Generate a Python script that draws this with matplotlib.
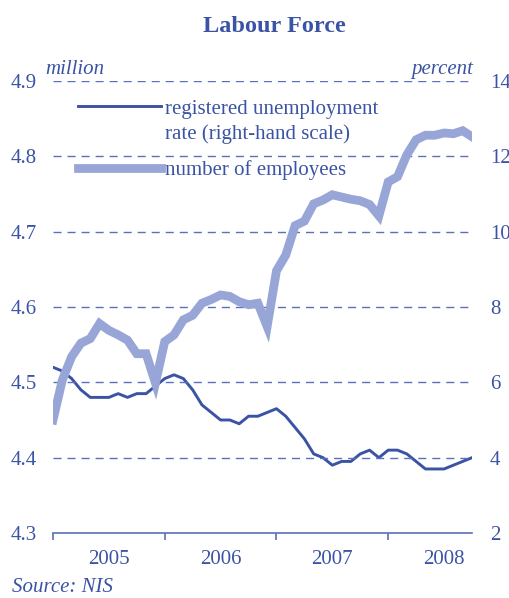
import numpy as np
import matplotlib
matplotlib.use("Agg")
import matplotlib.pyplot as plt

# monthly data, Jan 2005 - Oct 2008
employees = [4.450, 4.503, 4.534, 4.552, 4.558, 4.578, 4.569, 4.563, 4.556, 4.538,
             4.538, 4.499, 4.554, 4.563, 4.583, 4.589, 4.605, 4.610, 4.616, 4.614,
             4.607, 4.603, 4.605, 4.574, 4.648, 4.669, 4.708, 4.714, 4.737, 4.742,
             4.749, 4.746, 4.743, 4.741, 4.736, 4.721, 4.766, 4.773, 4.802, 4.822,
             4.828, 4.828, 4.831, 4.830, 4.834, 4.826]
unemployment = [6.4, 6.3, 6.1, 5.8, 5.6, 5.6, 5.6, 5.7, 5.6, 5.7,
                5.7, 5.9, 6.1, 6.2, 6.1, 5.8, 5.4, 5.2, 5.0, 5.0,
                4.9, 5.1, 5.1, 5.2, 5.3, 5.1, 4.8, 4.5, 4.1, 4.0,
                3.8, 3.9, 3.9, 4.1, 4.2, 4.0, 4.2, 4.2, 4.1, 3.9,
                3.7, 3.7, 3.7, 3.8, 3.9, 4.0]
years = ["2005", "2006", "2007", "2008"]
left_ticks = [4.3, 4.4, 4.5, 4.6, 4.7, 4.8, 4.9]
right_ticks = [2, 4, 6, 8, 10, 12, 14]

BLUE = "#3b53a4"
GRID = "#5b70bb"
LIGHT = "#98a5d7"

plt.rcParams["font.family"] = ["Liberation Serif", "DejaVu Serif"]
plt.rcParams["font.size"] = 15

fig = plt.figure(figsize=(5.10, 5.98), dpi=100)
ax = fig.add_axes([53 / 510, 1 - 533 / 598, 419 / 510, 452 / 598])
ax2 = ax.twinx()

x = np.arange(len(employees))
l_emp, = ax.plot(x, employees, color=LIGHT, lw=6.3, solid_joinstyle="miter", zorder=3)
l_un, = ax2.plot(x, unemployment, color=BLUE, lw=2.1, zorder=4)

ax.set_xlim(0, len(employees) - 1)
ax.set_ylim(4.3, 4.9)
ax2.set_ylim(2, 14)
ax.set_yticks(left_ticks)
ax.set_yticklabels([f"{v:.1f}" for v in left_ticks])
ax2.set_yticks(right_ticks)

for v in left_ticks[1:]:
    ax.axhline(v, color=GRID, lw=1, dashes=(5.8, 4.3), zorder=1)

for a in (ax, ax2):
    for s in ("left", "right", "top"):
        a.spines[s].set_visible(False)
    a.tick_params(axis="y", length=0, colors=BLUE, labelsize=15)
ax.tick_params(axis="y", pad=11.5)
ax2.tick_params(axis="y", pad=13)
ax.spines["bottom"].set_color(GRID)
ax.spines["bottom"].set_linewidth(1.2)
ax2.spines["bottom"].set_visible(False)

ax.set_xticks([0, 12, 24, 36])
ax.set_xticklabels([])
ax.set_xticks([6, 18, 30, 42], minor=True)
ax.set_xticklabels(years, minor=True)
ax.tick_params(axis="x", which="major", length=5, color=GRID, width=1.2)
ax.tick_params(axis="x", which="minor", length=0, colors=BLUE, pad=12, labelsize=15)

ax.set_zorder(ax2.get_zorder() + 1)
ax.patch.set_visible(False)
ax2.set_zorder(0)

leg = ax.legend([l_un, l_emp], ["registered unemployment", "number of employees"],
                loc="upper left", bbox_to_anchor=(0.06, 0.96), frameon=False,
                handlelength=4.0, handletextpad=0.15, labelspacing=2.0,
                borderpad=0, borderaxespad=0, fontsize=15)
for t in leg.get_texts():
    t.set_color(BLUE)

# second line of the first legend label, placed under it
fig.canvas.draw()
bb = leg.get_texts()[0].get_window_extent().transformed(fig.transFigure.inverted())
fig.text(bb.x0, bb.y0 - 25 / 598, "rate (right-hand scale)", ha="left", va="bottom",
         fontsize=15, color=BLUE)

fig.text(274 / 510, 1 - 27 / 598, "Labour Force", ha="center", va="center",
         fontsize=17.5, fontweight="bold", color=BLUE)
fig.text(45 / 510, 1 - 74 / 598, "million", ha="left", va="baseline",
         fontsize=15, style="italic", color=BLUE)
fig.text(473 / 510, 1 - 74 / 598, "percent", ha="right", va="baseline",
         fontsize=15, style="italic", color=BLUE)
fig.text(12 / 510, 1 - 592 / 598, "Source: NIS", ha="left", va="baseline",
         fontsize=15, style="italic", color=BLUE)

fig.savefig("out.png", dpi=100)
